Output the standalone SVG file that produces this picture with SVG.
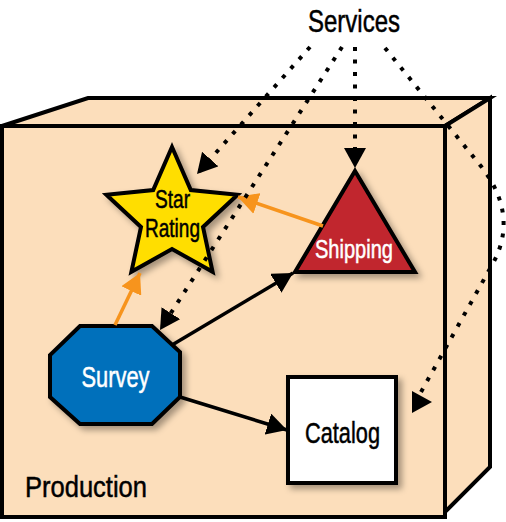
<svg xmlns="http://www.w3.org/2000/svg" width="506" height="522" viewBox="0 0 506 522">
<defs>
<style>
.box{fill:#FCDEBB;stroke:#000;stroke-width:4;stroke-linejoin:miter}
.node{stroke:#000;stroke-width:4;stroke-linejoin:miter}
.lbl{font-family:"Liberation Sans",Arial,sans-serif;text-anchor:middle;stroke-width:0.5}
.blk{fill:#000;stroke:#000}
.wht{fill:#fff;stroke:#fff}
.dot{fill:none;stroke:#000;stroke-width:4;stroke-dasharray:4 8.5}
.solid{fill:none;stroke:#000;stroke-width:3.5}
.orange{fill:none;stroke:#F7941D;stroke-width:3.5}
</style>
<filter id="sh" x="-20%" y="-20%" width="150%" height="150%">
<feDropShadow dx="4" dy="4" stdDeviation="3" flood-color="#000" flood-opacity="0.35"/>
</filter>
<marker id="ab" viewBox="0 0 20 22" refX="20" refY="11" markerWidth="20" markerHeight="22" markerUnits="userSpaceOnUse" orient="auto">
<path d="M0,0 L20,11 L0,22 z" fill="#000"/>
</marker>
<marker id="ao" viewBox="0 0 20 22" refX="20" refY="11" markerWidth="20" markerHeight="22" markerUnits="userSpaceOnUse" orient="auto">
<path d="M0,0 L20,11 L0,22 z" fill="#F7941D"/>
</marker>
</defs>

<g id="production">
<polygon class="box" points="2,126 88,98 490,98 445,126"/>
<polygon class="box" points="445,126 490,98 490,467 445,512"/>
<rect class="box" x="2" y="126" width="443" height="391"/>
<text class="lbl blk" x="86" y="497" font-size="30" textLength="122" lengthAdjust="spacingAndGlyphs">Production</text>
</g>

<g id="services">
<text class="lbl blk" x="354" y="32" font-size="32" textLength="92" lengthAdjust="spacingAndGlyphs">Services</text>
</g>

<g id="star-rating">
<polygon class="node" filter="url(#sh)" fill="#FFDE00" points="172,147 190.8,190.1 237.6,194.7 203,227 212.6,271.8 172,249 131.4,271.8 141,227 106.4,194.7 153.2,190.1"/>
<text class="lbl blk" x="172.5" y="208" font-size="25" textLength="35" lengthAdjust="spacingAndGlyphs">Star</text>
<text class="lbl blk" x="172.5" y="237" font-size="25" textLength="55" lengthAdjust="spacingAndGlyphs">Rating</text>
</g>

<g id="shipping">
<polygon class="node" filter="url(#sh)" fill="#C1272D" points="355,171 415,272 295,272"/>
<text class="lbl wht" x="354" y="258" font-size="25" textLength="78" lengthAdjust="spacingAndGlyphs">Shipping</text>
</g>

<g id="survey">
<polygon class="node" filter="url(#sh)" fill="#0070BB" points="80,326 152,326 180,352 180,397 152,424 80,424 50,397 50,355"/>
<text class="lbl wht" x="115.5" y="387" font-size="29" textLength="68" lengthAdjust="spacingAndGlyphs">Survey</text>
</g>

<g id="catalog">
<rect class="node" filter="url(#sh)" fill="#fff" x="288" y="377" width="108" height="106"/>
<text class="lbl blk" x="342.5" y="443" font-size="29" textLength="75" lengthAdjust="spacingAndGlyphs">Catalog</text>
</g>

<g id="connectors">
<line class="orange" x1="115" y1="325" x2="140" y2="273" marker-end="url(#ao)"/>
<line class="orange" x1="323" y1="226" x2="238" y2="197" marker-end="url(#ao)"/>
<line class="solid" x1="172" y1="345" x2="293" y2="273" marker-end="url(#ab)"/>
<line class="solid" x1="180" y1="397" x2="287" y2="430" marker-end="url(#ab)"/>
<line class="dot" x1="310" y1="47" x2="197" y2="174" marker-end="url(#ab)"/>
<line class="dot" x1="342" y1="47" x2="160" y2="330" marker-end="url(#ab)"/>
<line class="dot" x1="355" y1="47" x2="355" y2="168" marker-end="url(#ab)"/>
<path class="dot" d="M385,48 L480,165 C505,196 512,230 492,265 L421,392"/>
<polygon points="412,391 432,402 412,413" fill="#000"/>
</g>
</svg>
